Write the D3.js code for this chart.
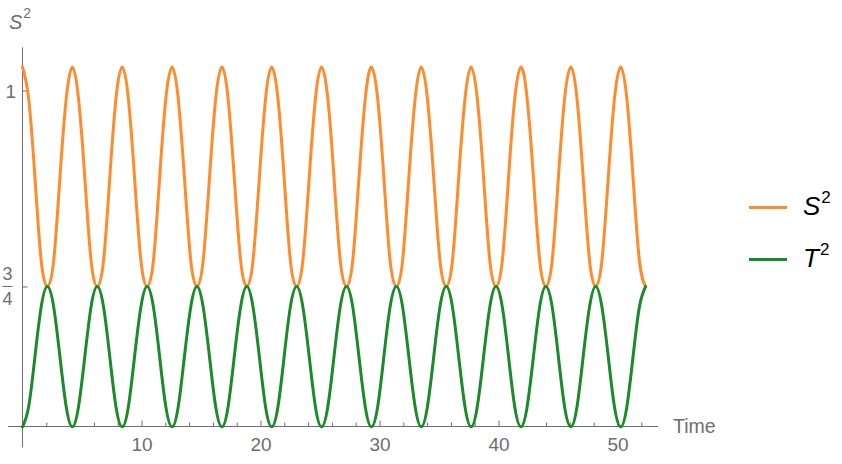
<!DOCTYPE html>
<html>
<head>
<meta charset="utf-8">
<script src="https://cdnjs.cloudflare.com/ajax/libs/d3/7.8.5/d3.min.js"></script>
<style>
  body { margin: 0; background: #fff; }
  text { font-family: "Liberation Sans", Arial, sans-serif; }
</style>
</head>
<body>
<svg id="chart"></svg>
<script>
// time samples (every 1/8 of a period)
var times = [
  0, 0.52, 1.05, 1.57, 2.09, 2.62, 3.14, 3.67,
  4.19, 4.71, 5.24, 5.76, 6.28, 6.81, 7.33, 7.85,
  8.38, 8.90, 9.42, 9.95, 10.47, 11.00, 11.52, 12.04,
  12.57, 13.09, 13.61, 14.14, 14.66, 15.18, 15.71, 16.23,
  16.76, 17.28, 17.80, 18.33, 18.85, 19.37, 19.90, 20.42,
  20.94, 21.47, 21.99, 22.51, 23.04, 23.56, 24.09, 24.61,
  25.13, 25.66, 26.18, 26.70, 27.23, 27.75, 28.27, 28.80,
  29.32, 29.85, 30.37, 30.89, 31.42, 31.94, 32.46, 32.99,
  33.51, 34.03, 34.56, 35.08, 35.61, 36.13, 36.65, 37.18,
  37.70, 38.22, 38.75, 39.27, 39.79, 40.32, 40.84, 41.36,
  41.89, 42.41, 42.94, 43.46, 43.98, 44.51, 45.03, 45.55,
  46.08, 46.60, 47.12, 47.65, 48.17, 48.69, 49.22, 49.74,
  50.27, 50.79, 51.31, 51.84, 52.36
];

var s2Values = [
  1.030, 0.989, 0.888, 0.783, 0.750, 0.783, 0.888, 0.989,
  1.030, 0.989, 0.888, 0.783, 0.750, 0.783, 0.888, 0.989,
  1.030, 0.989, 0.888, 0.783, 0.750, 0.783, 0.888, 0.989,
  1.030, 0.989, 0.888, 0.783, 0.750, 0.783, 0.888, 0.989,
  1.030, 0.989, 0.888, 0.783, 0.750, 0.783, 0.888, 0.989,
  1.030, 0.989, 0.888, 0.783, 0.750, 0.783, 0.888, 0.989,
  1.030, 0.989, 0.888, 0.783, 0.750, 0.783, 0.888, 0.989,
  1.030, 0.989, 0.888, 0.783, 0.750, 0.783, 0.888, 0.989,
  1.030, 0.989, 0.888, 0.783, 0.750, 0.783, 0.888, 0.989,
  1.030, 0.989, 0.888, 0.783, 0.750, 0.783, 0.888, 0.989,
  1.030, 0.989, 0.888, 0.783, 0.750, 0.783, 0.888, 0.989,
  1.030, 0.989, 0.888, 0.783, 0.750, 0.783, 0.888, 0.989,
  1.030, 0.989, 0.888, 0.783, 0.750
];

var t2Values = [
  0.571, 0.597, 0.661, 0.724, 0.750, 0.724, 0.661, 0.597,
  0.571, 0.597, 0.661, 0.724, 0.750, 0.724, 0.661, 0.597,
  0.571, 0.597, 0.661, 0.724, 0.750, 0.724, 0.661, 0.597,
  0.571, 0.597, 0.661, 0.724, 0.750, 0.724, 0.661, 0.597,
  0.571, 0.597, 0.661, 0.724, 0.750, 0.724, 0.661, 0.597,
  0.571, 0.597, 0.661, 0.724, 0.750, 0.724, 0.661, 0.597,
  0.571, 0.597, 0.661, 0.724, 0.750, 0.724, 0.661, 0.597,
  0.571, 0.597, 0.661, 0.724, 0.750, 0.724, 0.661, 0.597,
  0.571, 0.597, 0.661, 0.724, 0.750, 0.724, 0.661, 0.597,
  0.571, 0.597, 0.661, 0.724, 0.750, 0.724, 0.661, 0.597,
  0.571, 0.597, 0.661, 0.724, 0.750, 0.724, 0.661, 0.597,
  0.571, 0.597, 0.661, 0.724, 0.750, 0.724, 0.661, 0.597,
  0.571, 0.597, 0.661, 0.724, 0.750
];

var xMajorTicks = [10, 20, 30, 40, 50];
var xMinorTicks = [2, 4, 6, 8, 12, 14, 16, 18, 22, 24, 26, 28, 32, 34, 36, 38, 42, 44, 46, 48, 52];
var yTicks = [0.75, 1];

var seriesNames = ["S", "T"];
var seriesColors = ["#ff8b2d", "#1b8a2b"];

var width = 842, height = 464;
var axisColor = "#6e6e6e";

var svg = d3.select("#chart").attr("width", width).attr("height", height);

var x = d3.scaleLinear().domain([0, 50]).range([22.5, 617.5]);
var y = d3.scaleLinear().domain([0.5714, 1]).range([426.5, 90.5]);

// axes lines (they run a bit past the crossing point, Mathematica style)
svg.append("line")
  .attr("x1", x(-1.22)).attr("x2", x(53.4))
  .attr("y1", y(0.5714)).attr("y2", y(0.5714))
  .attr("stroke", axisColor).attr("stroke-width", 1);

svg.append("line")
  .attr("x1", x(0)).attr("x2", x(0))
  .attr("y1", y(1.055)).attr("y2", y(0.545))
  .attr("stroke", axisColor).attr("stroke-width", 1);

// x ticks
var xAxisMajor = d3.axisBottom(x).tickValues(xMajorTicks).tickSizeInner(-6).tickSizeOuter(0).tickPadding(11);
var xAxisMinor = d3.axisBottom(x).tickValues(xMinorTicks).tickSizeInner(-4).tickSizeOuter(0).tickFormat("");

var gx = svg.append("g").attr("transform", "translate(0," + y(0.5714) + ")").call(xAxisMajor);
var gxm = svg.append("g").attr("transform", "translate(0," + y(0.5714) + ")").call(xAxisMinor);

[gx, gxm].forEach(function(g) {
  g.select(".domain").remove();
  g.selectAll(".tick line").attr("stroke", axisColor);
});
gx.selectAll(".tick text")
  .attr("fill", axisColor)
  .style("font-size", "19px")
  .style("font-family", "'Liberation Sans', Arial, sans-serif");

// y ticks (labels drawn by hand, one is a fraction)
var yAxis = d3.axisLeft(y).tickValues(yTicks).tickSizeInner(-5).tickSizeOuter(0).tickFormat("");
var gy = svg.append("g").attr("transform", "translate(" + x(0) + ",0)").call(yAxis);
gy.select(".domain").remove();
gy.selectAll(".tick line").attr("stroke", axisColor);

svg.append("text")
  .attr("x", 16).attr("y", y(1) + 7)
  .attr("text-anchor", "end")
  .attr("fill", axisColor)
  .style("font-size", "19px")
  .text("1");

var frac = svg.append("g").attr("fill", axisColor);
frac.append("text")
  .attr("x", 7.5).attr("y", y(0.75) - 6.5)
  .attr("text-anchor", "middle")
  .style("font-size", "18px")
  .text("3");
frac.append("line")
  .attr("x1", 2.5).attr("x2", 12.5)
  .attr("y1", y(0.75)).attr("y2", y(0.75))
  .attr("stroke", axisColor).attr("stroke-width", 1);
frac.append("text")
  .attr("x", 7.5).attr("y", y(0.75) + 19)
  .attr("text-anchor", "middle")
  .style("font-size", "18px")
  .text("4");

// axis labels
var yLab = svg.append("text").attr("x", 9).attr("y", 29).attr("fill", axisColor);
yLab.append("tspan").style("font-size", "20px").style("font-style", "italic").text("S");
yLab.append("tspan").attr("dy", -11).attr("dx", 1).style("font-size", "14px").text("2");

svg.append("text")
  .attr("x", 673).attr("y", 433)
  .attr("fill", axisColor)
  .style("font-size", "19.5px")
  .text("Time");

// curves
var line = d3.line()
  .x(function(d) { return x(d[0]); })
  .y(function(d) { return y(d[1]); })
  .curve(d3.curveNatural);

var series = [s2Values, t2Values];

series.forEach(function(vals, i) {
  var pts = times.map(function(t, j) { return [t, vals[j]]; });
  svg.append("path")
    .datum(pts)
    .attr("d", line)
    .attr("fill", "none")
    .attr("stroke", seriesColors[i])
    .attr("stroke-width", 3)
    .attr("stroke-linejoin", "round")
    .attr("stroke-linecap", "round");
});

// legend
var legendY = [207.5, 259.5];
seriesNames.forEach(function(name, i) {
  svg.append("line")
    .attr("x1", 749).attr("x2", 787)
    .attr("y1", legendY[i]).attr("y2", legendY[i])
    .attr("stroke", seriesColors[i])
    .attr("stroke-width", 3);

  var lt = svg.append("text")
    .attr("x", 803).attr("y", legendY[i] + 7)
    .attr("fill", "#000");
  lt.append("tspan").style("font-size", "26px").style("font-style", "italic").text(name);
  lt.append("tspan").attr("dy", -12).attr("dx", 1).style("font-size", "17px").text("2");
});
</script>
</body>
</html>
